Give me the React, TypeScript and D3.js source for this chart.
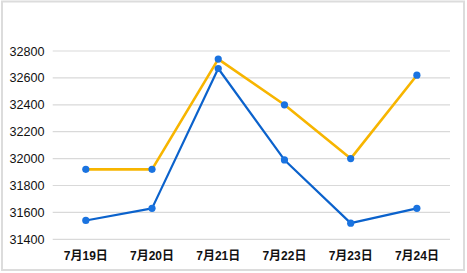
import React, { useEffect, useRef } from "react";
import * as d3 from "d3";

const categories = ["7月19日", "7月20日", "7月21日", "7月22日", "7月23日", "7月24日"];
const seriesBlue = [31540, 31630, 32670, 31990, 31520, 31630];
const seriesYellow = [31920, 31920, 32740, 32400, 32000, 32620];
const yTicks = [31400, 31600, 31800, 32000, 32200, 32400, 32600, 32800];

const W = 467;
const H = 273;

export default function App() {
  const ref = useRef<SVGSVGElement | null>(null);

  useEffect(() => {
    const svg = d3.select(ref.current);
    svg.selectAll("*").remove();

    const x = d3.scaleBand<string>().domain(categories).range([52.7, 450]);
    const y = d3.scaleLinear().domain([31400, 32800]).range([239.3, 51]);
    const cx = (c: string) => (x(c) as number) + x.bandwidth() / 2;

    svg
      .append("rect")
      .attr("x", 2)
      .attr("y", 1.5)
      .attr("width", 462)
      .attr("height", 268.5)
      .attr("fill", "#fff")
      .attr("stroke", "#dcdcdc")
      .attr("stroke-width", 2);

    const grid = svg.append("g");
    yTicks.forEach((t) => {
      grid
        .append("line")
        .attr("x1", 52.7)
        .attr("x2", 450)
        .attr("y1", y(t))
        .attr("y2", y(t))
        .attr("stroke", "#d9d9d9")
        .attr("stroke-width", 1.2);
      grid
        .append("text")
        .attr("x", 44.5)
        .attr("y", y(t))
        .attr("dy", "0.36em")
        .attr("text-anchor", "end")
        .attr("font-family", "'Liberation Sans', Arial, sans-serif")
        .attr("font-size", 12.6)
        .attr("fill", "#111")
        .text(String(t));
    });

    categories.forEach((c) => {
      svg
        .append("text")
        .attr("x", cx(c))
        .attr("y", 256)
        .attr("dy", "0.36em")
        .attr("text-anchor", "middle")
        .attr("font-family", "'Liberation Sans', 'Noto Sans CJK SC', sans-serif")
        .attr("font-size", 12)
        .attr("font-weight", "bold")
        .attr("fill", "#111")
        .text(c);
    });

    const line = d3
      .line<number>()
      .x((_, i) => cx(categories[i]))
      .y((d) => y(d));

    svg
      .append("path")
      .datum(seriesYellow)
      .attr("d", line)
      .attr("fill", "none")
      .attr("stroke", "#f7b500")
      .attr("stroke-width", 2.6)
      .attr("stroke-linejoin", "round");

    svg
      .append("path")
      .datum(seriesBlue)
      .attr("d", line)
      .attr("fill", "none")
      .attr("stroke", "#0b62cc")
      .attr("stroke-width", 2.2)
      .attr("stroke-linejoin", "round");

    [seriesYellow, seriesBlue].forEach((s) => {
      svg
        .append("g")
        .selectAll("circle")
        .data(s)
        .enter()
        .append("circle")
        .attr("cx", (_, i) => cx(categories[i]))
        .attr("cy", (d) => y(d))
        .attr("r", 3.6)
        .attr("fill", "#1a73e0");
    });
  }, []);

  return (
    <svg
      ref={ref}
      width={W}
      height={H}
      style={{ position: "fixed", left: 0, top: 0, display: "block" }}
    />
  );
}
